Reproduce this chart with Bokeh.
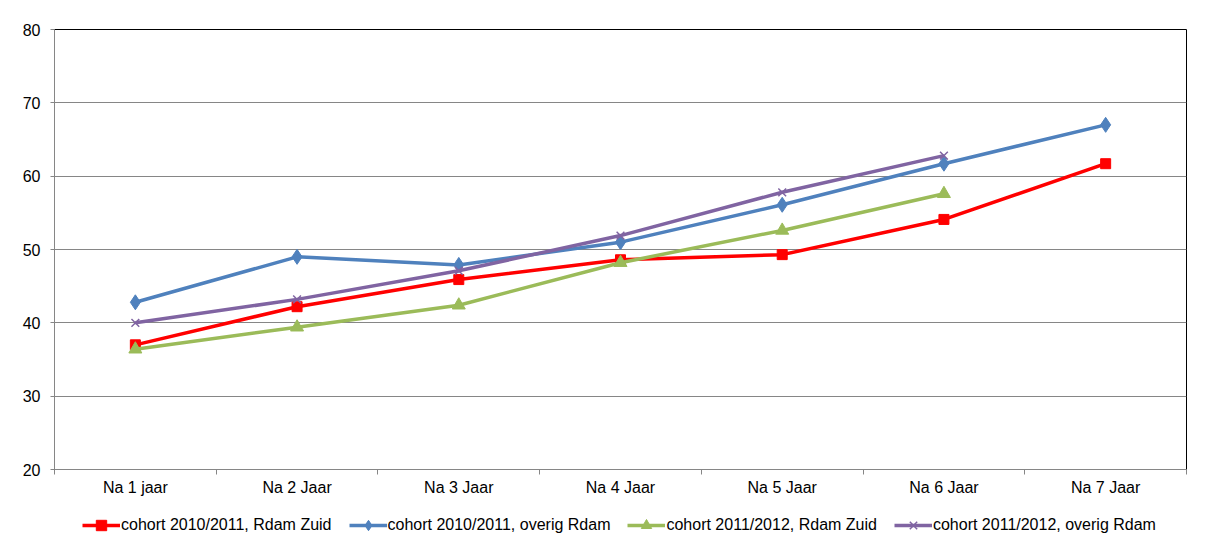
from bokeh.plotting import figure
from bokeh.layouts import column
from bokeh.models import Range1d, FixedTicker, Legend, LegendItem
from bokeh.embed import file_html
from bokeh.resources import INLINE

categories = ["Na 1 jaar", "Na 2 Jaar", "Na 3 Jaar", "Na 4 Jaar", "Na 5 Jaar", "Na 6 Jaar", "Na 7 Jaar"]
y_ticks = [20, 30, 40, 50, 60, 70, 80]

red_label = "cohort 2010/2011, Rdam Zuid"
red_values = [37.0, 42.2, 45.9, 48.6, 49.3, 54.1, 61.7]

blue_label = "cohort 2010/2011, overig Rdam"
blue_values = [42.8, 49.0, 47.9, 51.0, 56.1, 61.7, 67.0]

green_label = "cohort 2011/2012, Rdam Zuid"
green_values = [36.4, 39.4, 42.4, 48.2, 52.6, 57.6]

purple_label = "cohort 2011/2012, overig Rdam"
purple_values = [40.0, 43.2, 47.1, 51.9, 57.8, 62.8]

FONT = "Liberation Sans"
GRID = "#868686"

xpos = list(range(1, len(categories) + 1))

p = figure(frame_width=1132, frame_height=440, output_backend="svg", toolbar_location=None,
           x_range=Range1d(0.5, len(categories) + 0.5), y_range=Range1d(20, 80),
           min_border_left=54, min_border_top=29, min_border_right=19, min_border_bottom=35)
p.background_fill_color = "white"
p.border_fill_color = "white"
p.outline_line_color = "black"
p.outline_line_width = 1

# axes
p.xaxis.ticker = FixedTicker(ticks=xpos, minor_ticks=[x + 0.5 for x in range(len(categories) + 1)])
p.xaxis.major_label_overrides = {i + 1: c for i, c in enumerate(categories)}
p.xaxis.major_tick_out = 0
p.xaxis.major_tick_in = 0
p.xaxis.minor_tick_out = 5
p.xaxis.minor_tick_in = 0
p.xaxis.minor_tick_line_color = GRID
p.xaxis.major_label_standoff = 4

p.yaxis.ticker = FixedTicker(ticks=y_ticks)
p.yaxis.minor_tick_line_color = None
p.yaxis.major_tick_out = 4
p.yaxis.major_tick_in = 0
p.yaxis.major_label_standoff = 10

for ax in (p.xaxis, p.yaxis):
    ax.axis_line_color = GRID
    ax.axis_line_width = 1
    ax.major_tick_line_color = GRID
    ax.major_label_text_font = FONT
    ax.major_label_text_font_size = "16px"
    ax.major_label_text_color = "black"

p.xgrid.grid_line_color = None
p.ygrid.ticker = FixedTicker(ticks=y_ticks)
p.ygrid.grid_line_color = GRID
p.ygrid.grid_line_width = 1

series = [
    (red_label, red_values, "#FF0000", "square", 10),
    (blue_label, blue_values, "#4F81BD", "diamond", 15),
    (green_label, green_values, "#9BBB59", "triangle", 13),
    (purple_label, purple_values, "#8064A2", "x", 11),
]

# legend strip below the chart (its ranges keep the series out of view; only the keys show)
pl = figure(frame_width=1132, frame_height=40, output_backend="svg", toolbar_location=None,
            x_range=Range1d(-20, -19), y_range=Range1d(-20, -19),
            x_axis_location=None, y_axis_location=None,
            min_border_left=54, min_border_right=19, min_border_top=0, min_border_bottom=0)
pl.outline_line_color = None
pl.xgrid.grid_line_color = None
pl.ygrid.grid_line_color = None

items = []
for label, vals, color, marker, size in series:
    xs = xpos[:len(vals)]
    p.line(xs, vals, line_color=color, line_width=3.5, line_join="round")
    if marker == "x":
        p.scatter(xs, vals, marker=marker, size=size, line_color=color, line_width=1.5)
    else:
        p.scatter(xs, vals, marker=marker, size=size, fill_color=color, line_color=color)
    ln = pl.line(xs, vals, line_color=color, line_width=3.5)
    if marker == "x":
        sc = pl.scatter(xs, vals, marker=marker, size=size, line_color=color, line_width=1.5)
    else:
        sc = pl.scatter(xs, vals, marker=marker, size=size, fill_color=color, line_color=color)
    items.append(LegendItem(label=label, renderers=[ln, sc]))

legend = Legend(items=items, orientation="horizontal", location=(28, 6),
                label_text_font=FONT, label_text_font_size="16px", label_text_color="black",
                glyph_width=38, glyph_height=26, label_height=16, label_standoff=1, spacing=17,
                padding=0, margin=0, border_line_color=None, background_fill_alpha=0)
pl.add_layout(legend, "center")

layout = column(p, pl, spacing=0)
open("out.html", "w").write(file_html(layout, INLINE))
